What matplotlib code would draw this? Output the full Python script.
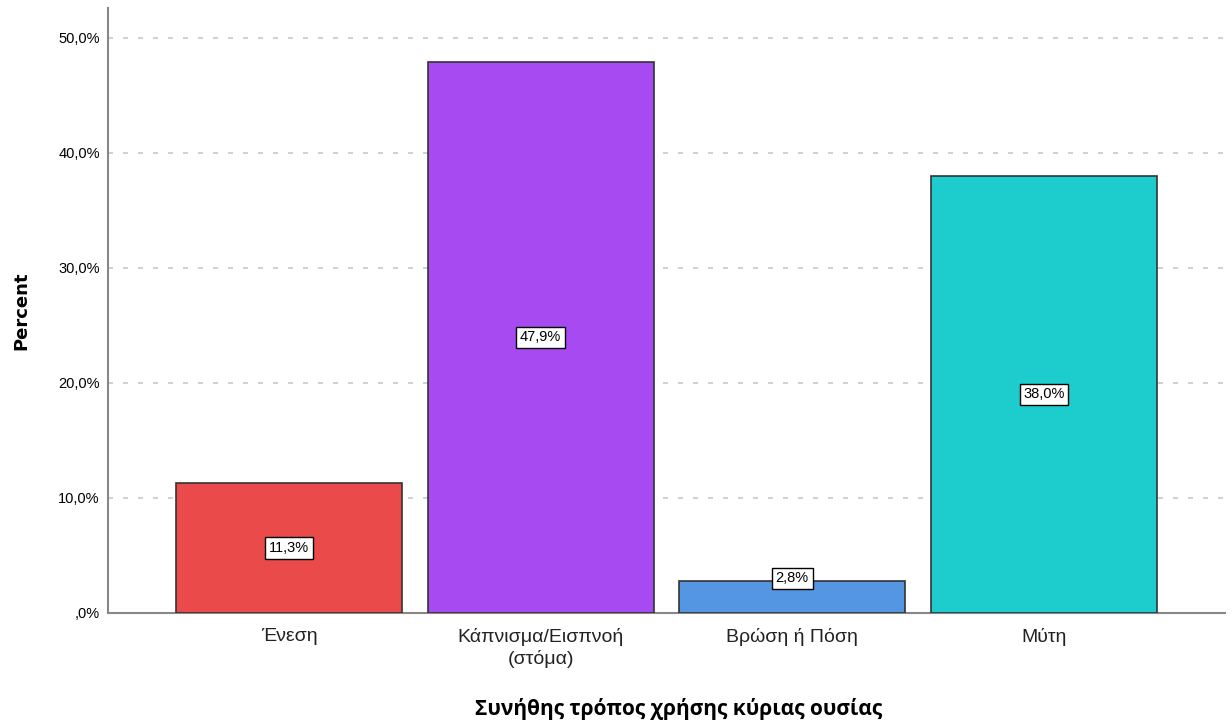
import matplotlib.pyplot as plt
import numpy as np

# data
categories = ["Ένεση", "Κάπνισμα/Εισπνοή\n(στόμα)", "Βρώση ή Πόση", "Μύτη"]
percent = [11.3, 47.9, 2.8, 38.0]
colors = ["#EB4A4B", "#A84AF2", "#5496E2", "#1DCDCE"]
yticks = [0, 10, 20, 30, 40, 50]
ytick_labels = [",0%", "10,0%", "20,0%", "30,0%", "40,0%", "50,0%"]

plt.rcParams['font.family'] = ['Liberation Sans', 'DejaVu Sans']

fig = plt.figure(figsize=(12.32, 7.22), dpi=100)
ax = fig.add_axes([0.0877, 0.151, 0.9066, 0.838])

x = np.arange(len(categories))
ax.bar(x, percent, width=0.9, color=colors, edgecolor="#333333", linewidth=1.2, zorder=3)

for xi, v in zip(x, percent):
    ypos = max(v / 2, 3.0)
    ax.text(xi, ypos, f"{v:.1f}%".replace(".", ","), ha="center", va="center",
            fontsize=10.5, zorder=4,
            bbox=dict(boxstyle="square,pad=0.25", facecolor="white", edgecolor="black", linewidth=1))

ax.set_xlim(-0.72, 3.72)
ax.set_ylim(0, 52.6)
ax.set_yticks(yticks)
ax.set_yticklabels(ytick_labels, fontsize=10.5)
ax.set_xticks(x)
ax.set_xticklabels(categories, fontsize=14, color="#222222", linespacing=1.25)
ax.tick_params(axis="x", length=0, pad=11)
ax.tick_params(axis="y", length=0, pad=6)

ax.yaxis.grid(True, linestyle=(0, (3, 6)), color="#C8C8C8", linewidth=1.2, zorder=0)
for s in ["top", "right"]:
    ax.spines[s].set_visible(False)
for s in ["left", "bottom"]:
    ax.spines[s].set_color("#888888")
    ax.spines[s].set_linewidth(1.5)

ax.set_ylabel("Percent", fontsize=13, fontweight="bold", family=["DejaVu Sans"], labelpad=20)
fig.text(0.551, 0.003, "Συνήθης τρόπος χρήσης κύριας ουσίας", ha="center", va="bottom",
         fontsize=15, fontweight="bold", family=["Open Sans", "DejaVu Sans"])

fig.savefig("out.png", dpi=100)
